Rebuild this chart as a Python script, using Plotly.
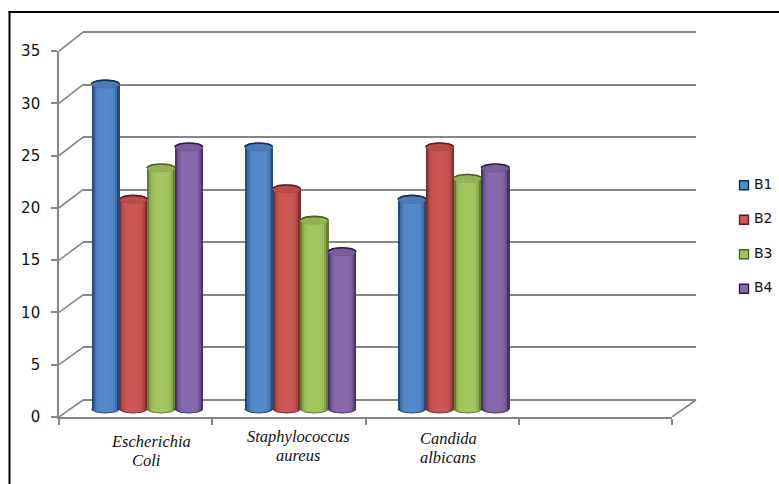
import numpy as np
import plotly.graph_objects as go

# Chart data
series_names = ["B1", "B2", "B3", "B4"]
b1_values = [31, 25, 20]
b2_values = [20, 21, 25]
b3_values = [23, 18, 22]
b4_values = [25, 15, 23]
y_ticks = [0, 5, 10, 15, 20, 25, 30, 35]
category_lines = [
    ["Escherichia", "Coli"],
    ["Staphylococcus", "aureus"],
    ["Candida", "albicans"],
]

# Styling
all_values = [b1_values, b2_values, b3_values, b4_values]
body_colors = [(84, 137, 203), (203, 86, 83), (163, 199, 95), (136, 104, 172)]
edge_colors = [(16, 45, 84), (92, 28, 26), (72, 94, 34), (44, 24, 78)]
grid_color = "#858585"

W, H = 779, 484


def hdom(left, right):
    return [left / W, right / W]


def vdom(bottom, top):
    return [1 - bottom / H, 1 - top / H]


def rgb(c):
    return "rgb(%d,%d,%d)" % tuple(round(v) for v in c)


def shade(base, edge, t):
    # t runs from -1 to 1 across a cylinder; the sides darken sharply
    k = abs(t) ** 5
    return tuple(b + (e - b) * k for b, e in zip(base, edge))


fig = go.Figure()

# Each group of planes has its own axes: back wall, bar plane, front edge
AXIS_SPAN = 4
BAR_PX_PER_UNIT = 10.48
WALL_PX_PER_UNIT = 10.514
FRONT_PX_PER_UNIT = 10.457
CAT_PX = 153.25
WALL_PAD = 0.5
BAR_FLOOR = -1.0
bar_width = 27.8 / CAT_PX
group_pos = [0.5, 1.5, 2.5]
cap_ry = 4.0 / BAR_PX_PER_UNIT
n_strips = 14

# Back wall: carries only the grid, via a trace that keeps the subplot alive
fig.add_trace(go.Scatter(x=[0], y=[0], mode="markers", marker=dict(opacity=0),
                         xaxis="x", yaxis="y", showlegend=False, hoverinfo="skip"))

for i, (name, values) in enumerate(zip(series_names, all_values)):
    base, edge = body_colors[i], edge_colors[i]
    slot = (i - 1.5) * bar_width
    centers = [p + slot for p in group_pos]

    fig.add_trace(go.Bar(
        x=centers, y=values, name=name, width=bar_width,
        marker=dict(color=rgb(base), line=dict(width=0)),
        xaxis="x2", yaxis="y2", showlegend=False,
    ))

    # Vertical strips give the rounded cylinder look
    strip_w = bar_width / n_strips
    ts = (np.arange(n_strips) + 0.5) / n_strips * 2 - 1
    strip_x = np.repeat(centers, n_strips)
    strip_y = np.repeat(values, n_strips)
    strip_off = np.tile(ts * bar_width / 2 - strip_w / 2, len(values))
    strip_col = [rgb(shade(base, edge, t)) for t in ts] * len(values)
    fig.add_trace(go.Bar(
        x=strip_x, y=strip_y, width=strip_w, offset=strip_off,
        marker=dict(color=strip_col, line=dict(width=0)),
        xaxis="x2", yaxis="y2", showlegend=False, hoverinfo="skip",
    ))

    theta = np.linspace(0, 2 * np.pi, 48)
    half = np.linspace(0, np.pi, 24)
    stops = [[(t + 1) / 2, rgb(shade(base, edge, t))] for t in np.linspace(-1, 1, 15)]
    for cx, v in zip(centers, values):
        # Rounded foot of the cylinder
        fig.add_trace(go.Scatter(
            x=cx + bar_width / 2 * np.cos(half), y=-cap_ry * np.sin(half),
            mode="lines", fill="toself", line=dict(color=rgb(edge), width=0.8),
            fillgradient=dict(type="horizontal", colorscale=stops),
            xaxis="x2", yaxis="y2", showlegend=False, hoverinfo="skip", cliponaxis=False,
        ))
        # Top face
        top_fill = tuple(b * 0.9 for b in base)
        fig.add_trace(go.Scatter(
            x=cx + bar_width / 2 * np.cos(theta), y=v + cap_ry * np.sin(theta),
            mode="lines", fill="toself", fillcolor=rgb(top_fill),
            line=dict(color=rgb(shade(base, edge, 0.75)), width=1),
            xaxis="x2", yaxis="y2", showlegend=False, hoverinfo="skip", cliponaxis=False,
        ))
        fig.add_trace(go.Scatter(
            x=cx + bar_width / 2 * np.cos(half), y=v + cap_ry * np.sin(half),
            mode="lines", line=dict(color=rgb(edge), width=1.6),
            xaxis="x2", yaxis="y2", showlegend=False, hoverinfo="skip", cliponaxis=False,
        ))

# Front edge: axis lines, ticks and value labels hang off this empty subplot
fig.add_trace(go.Scatter(x=[0], y=[0], mode="markers", marker=dict(opacity=0),
                         xaxis="x3", yaxis="y3", showlegend=False, hoverinfo="skip"))

# Connectors from the front edge back to the wall, on hidden axes wide enough for them
depth_dx = 24 / CAT_PX
conn_x, conn_y = [], []
for t in y_ticks:
    rise = (17 + t * 0.057) / FRONT_PX_PER_UNIT
    conn_x += [0, depth_dx, None]
    conn_y += [t, t + rise, None]
conn_x += [AXIS_SPAN, AXIS_SPAN + depth_dx]
conn_y += [0, 17 / FRONT_PX_PER_UNIT]
fig.add_trace(go.Scatter(
    x=conn_x, y=conn_y, mode="lines", line=dict(color=grid_color, width=1.6),
    xaxis="x5", yaxis="y5", showlegend=False, hoverinfo="skip", cliponaxis=False,
))

# Key on the right: swatch plus its label a little further along
for i, name in enumerate(series_names):
    fig.add_trace(go.Scatter(
        x=[0], y=[i], mode="markers",
        marker=dict(symbol="square", size=9, color=rgb(body_colors[i]),
                    line=dict(color=rgb(edge_colors[i]), width=1.3)),
        xaxis="x4", yaxis="y4", showlegend=False, hoverinfo="skip", cliponaxis=False,
    ))
    fig.add_trace(go.Scatter(
        x=[10], y=[i], mode="text", text=[name], textposition="middle right",
        textfont=dict(family="DejaVu Sans", size=14, color="#111111"),
        xaxis="x4", yaxis="y4", showlegend=False, hoverinfo="skip", cliponaxis=False,
    ))

# Species labels, placed line by line below the axis
label_centers = [[151, 146], [298, 298], [448, 448]]
label_tops = [[441, 460], [436.5, 455.5], [438.5, 457.5]]
annotations = []
for lines, xs, ys in zip(category_lines, label_centers, label_tops):
    for text, px, py in zip(lines, xs, ys):
        annotations.append(dict(
            text=text, x=px / W, y=1 - py / H, xref="paper", yref="paper",
            xanchor="center", yanchor="middle", showarrow=False,
            font=dict(family="Liberation Serif", size=16.5, color="#111111", style="italic"),
        ))

hidden = dict(visible=False, showgrid=False, zeroline=False, fixedrange=True)

fig.update_layout(
    width=W, height=H, margin=dict(l=0, r=0, t=0, b=0, autoexpand=False), autosize=False,
    paper_bgcolor="white", plot_bgcolor="rgba(0,0,0,0)",
    barmode="overlay", bargap=0, showlegend=False, annotations=annotations,
    xaxis=dict(domain=hdom(83, 696), range=[0, AXIS_SPAN], anchor="y", **hidden),
    yaxis=dict(domain=vdom(400 + WALL_PAD * WALL_PX_PER_UNIT, 32 - WALL_PAD * WALL_PX_PER_UNIT),
               range=[-WALL_PAD, 35 + WALL_PAD], anchor="x", visible=True, showgrid=True,
               gridcolor=grid_color, gridwidth=2, tickvals=y_ticks, showticklabels=False,
               ticks="", zeroline=False, showline=False, fixedrange=True),
    xaxis2=dict(domain=hdom(70.5, 683.5), range=[0, AXIS_SPAN], anchor="y2", **hidden),
    yaxis2=dict(domain=vdom(409 - BAR_FLOOR * BAR_PX_PER_UNIT, 409 - 35 * BAR_PX_PER_UNIT),
                range=[BAR_FLOOR, 35], anchor="x2", **hidden),
    xaxis3=dict(domain=hdom(59, 672), range=[0, AXIS_SPAN], anchor="y3", tickvals=[0, 1, 2, 3, 4],
                ticks="outside", ticklen=6, tickwidth=1.6, tickcolor=grid_color, showticklabels=False,
                showline=True, linecolor=grid_color, linewidth=2, showgrid=False, zeroline=False,
                fixedrange=True),
    yaxis3=dict(domain=vdom(417, 51), range=[0, 35], anchor="x3", tickvals=y_ticks,
                ticks="outside", ticklen=6, tickwidth=1.6, tickcolor=grid_color,
                tickfont=dict(family="DejaVu Sans", size=15, color="#111111"), ticklabelstandoff=8,
                showline=True, linecolor=grid_color, linewidth=1.6, showgrid=False, zeroline=False,
                fixedrange=True),
    xaxis4=dict(domain=hdom(744, 779), range=[0, 35], anchor="y4", **hidden),
    yaxis4=dict(domain=vdom(306, 168), range=[3.5, -0.5], anchor="x4", **hidden),
    xaxis5=dict(domain=hdom(59, 696 + 2), range=[0, (696 + 2 - 59) / CAT_PX], anchor="y5", **hidden),
    yaxis5=dict(domain=vdom(417, 30), range=[0, (417 - 30) / FRONT_PX_PER_UNIT], anchor="x5", **hidden),
    shapes=[
        dict(type="line", xref="paper", yref="paper", x0=9.5 / W, x1=9.5 / W, y0=0, y1=1 - 11 / H,
             line=dict(color="black", width=2)),
        dict(type="line", xref="paper", yref="paper", x0=8.5 / W, x1=1, y0=1 - 12 / H, y1=1 - 12 / H,
             line=dict(color="black", width=2)),
    ],
)

fig.write_html("out.html", config=dict(displayModeBar=False))
